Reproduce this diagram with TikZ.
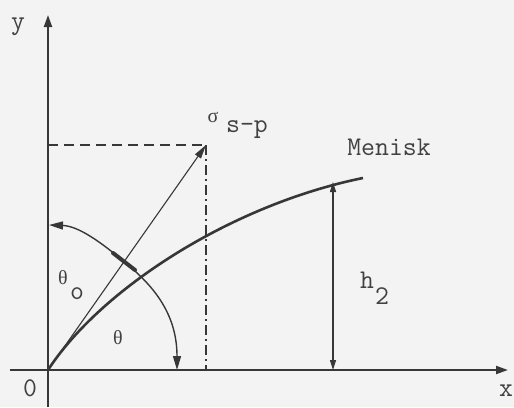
\documentclass[tikz,border=0pt]{standalone}
\usepackage{fontspec}
\usepackage{tikz}
\usetikzlibrary{arrows.meta, positioning, calc}
\newfontfamily\greekfont{Liberation Serif}
\definecolor{paper}{RGB}{243, 243, 243}
\definecolor{inkgray}{RGB}{55, 55, 55}
\definecolor{textgray}{RGB}{65, 65, 65}

\begin{document}
\begin{tikzpicture}[x=0.5pt, y=-0.5pt,
    lbl/.style={text=textgray, inner sep=0pt, font=\ttfamily\fontsize{13.5}{15}\selectfont},
    greek/.style={text=textgray, inner sep=0pt, font=\greekfont\fontsize{10}{12}\selectfont},
    axisline/.style={draw=inkgray, line width=1pt, -{Triangle[length=6pt, width=4pt]}},
    thinline/.style={draw=inkgray, line width=0.55pt}]
    % background and frame of the picture
    \fill[paper] (0,0) rectangle (514,407);
    \useasboundingbox (0,0) rectangle (514,407);

    % axes
    \coordinate (O) at (48,370);
    \coordinate (xstart) at (10,370);
    \coordinate (xend) at (508,370);
    \coordinate (ystart) at (48,407);
    \coordinate (yend) at (48,15);
    \draw[axisline] (xstart) -- (xend);
    \draw[axisline] (ystart) -- (yend);
    \node[lbl] (ylab) at (18,27) {y};
    \node[lbl] (xlab) at (506,391) {x};
    \node[lbl] (olab) at (30,388) {0};

    % force vector with its projections
    \coordinate (sigtip) at (206,145);
    \coordinate (sigy) at (48,145);
    \coordinate (sigx) at (206,370);
    \draw[thinline, dash pattern=on 5pt off 3pt] (sigy) -- (sigtip);
    \draw[thinline, dash pattern=on 5pt off 2pt on 1pt off 2pt] (sigtip) -- (sigx);
    \draw[thinline, -{Triangle[length=7pt, width=3.5pt]}] (O) -- (sigtip);
    \node[greek, font=\greekfont\fontsize{10}{11}\selectfont] (sigma) at (213,117) {σ};
    \node[lbl] (sp) at (247,130) {s-p};

    % meniscus
    \coordinate (menend) at (363,178);
    \draw[draw=inkgray, line width=1.3pt] (O) .. controls (100,290) and (230,205) .. (menend);
    \node[lbl] (menisk) at (389,147) {Menisk};

    % height h2
    \coordinate (htop) at (333,182);
    \coordinate (hbot) at (333,370);
    \draw[thinline, {Triangle[length=5pt, width=3pt]}-{Triangle[length=5pt, width=3pt]}] (htop) -- (hbot);
    \node[lbl] (hlab) at (367,280) {h};
    \node[lbl] (hsub) at (382,296) {2};

    % angle arc
    \coordinate (arcB) at (177,370);
    \coordinate (arcM) at (128,265);
    \coordinate (arcT) at (49,225);
    \draw[thinline, line width=0.7pt, {Triangle[length=7pt, width=4pt]}-{Triangle[length=7pt, width=4pt]}]
        (arcT) .. controls (78,226) and (100,241) .. (arcM)
        .. controls (158,290) and (177,318) .. (arcB);
    \coordinate (markA) at (113,253);
    \coordinate (markB) at (135,270);
    \draw[draw=inkgray, line width=2pt, line cap=round] (markA) -- (markB);
    \node[greek] (theta0) at (63,278) {θ};
    \node[lbl] (theta0sub) at (77,294) {o};
    \node[greek] (theta) at (118,338) {θ};
\end{tikzpicture}
\end{document}
